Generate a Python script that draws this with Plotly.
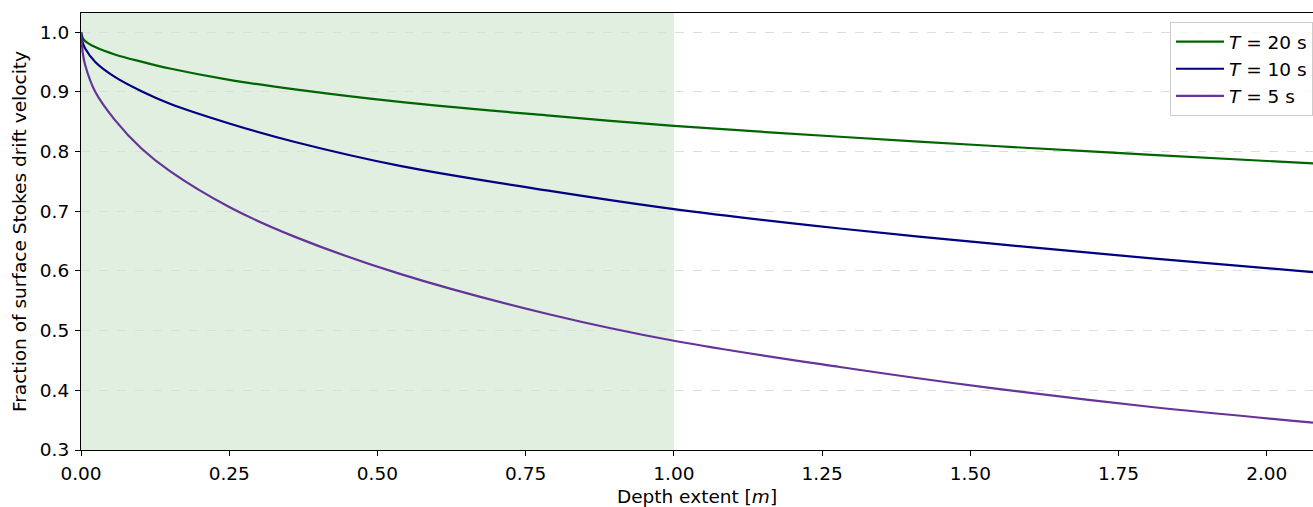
import plotly.graph_objects as go

# Depth extent [m]
depth = [0.0, 0.003, 0.007, 0.024, 0.057, 0.102, 0.15, 0.25, 0.361, 0.538,
         0.791, 1.0, 1.28, 1.533, 1.806, 2.078]
# Fraction of surface Stokes drift velocity for each period
frac_T20 = [1.0, 0.990, 0.985, 0.975, 0.9626, 0.9505, 0.939, 0.920, 0.904, 0.883,
            0.860, 0.843, 0.8247, 0.8096, 0.7945, 0.780]
frac_T10 = [1.0, 0.982, 0.9725, 0.950, 0.925, 0.901, 0.880, 0.847, 0.816, 0.776,
            0.734, 0.7035, 0.671, 0.646, 0.621, 0.598]
frac_T5 = [1.0, 0.965, 0.945, 0.900, 0.853, 0.805, 0.767, 0.707, 0.657, 0.595,
           0.527, 0.483, 0.439, 0.404, 0.372, 0.346]

series = [
    ("<i>T</i> = 20 s", frac_T20, "#006400"),
    ("<i>T</i> = 10 s", frac_T10, "#000080"),
    ("<i>T</i> = 5 s", frac_T5, "#663399"),
]
shade_start, shade_end = 0.0, 1.0

fig = go.Figure()
for name, ys, col in series:
    fig.add_trace(go.Scatter(x=depth, y=ys, mode="lines", name=name,
                             line=dict(color=col, width=2.2, shape="spline", smoothing=1.0)))

fig.add_vrect(x0=shade_start, x1=shade_end, fillcolor="#e0efe0", opacity=1,
              line_width=0, layer="below")

font = dict(family="DejaVu Sans", size=18.5, color="black")
fig.update_layout(
    width=1313, height=507,
    margin=dict(l=81, r=0, t=13, b=57),
    plot_bgcolor="white", paper_bgcolor="white",
    font=font,
    showlegend=True,
    legend=dict(x=1.0, y=0.979, xanchor="right", yanchor="top",
                bgcolor="rgba(255,255,255,0.8)", bordercolor="#cccccc", borderwidth=1,
                font=font, itemwidth=48, tracegroupgap=0),
    xaxis=dict(range=[0, 2.078], dtick=0.25, tick0=0, tickformat=".2f",
               showgrid=False, zeroline=False, showline=True, linecolor="black",
               linewidth=1.2, mirror=True, ticks="outside", ticklen=5, tickcolor="black",
               ticklabelstandoff=2,
               title=dict(text="Depth extent [<i>m</i>]", standoff=6, font=font),
               tickfont=font, automargin=False),
    yaxis=dict(range=[0.3, 1.032], dtick=0.1, tick0=0.3, tickformat=".1f",
               showgrid=True, gridcolor="#dddddd", griddash="dash", gridwidth=1,
               zeroline=False, showline=True, linecolor="black", linewidth=1.2,
               ticks="outside", ticklen=5, tickcolor="black",
               ticklabelstandoff=2,
               title=dict(text="Fraction of surface Stokes drift velocity", standoff=8, font=font),
               tickfont=font, automargin=False),
)

fig.write_html("out.html", config={"displayModeBar": False},
               post_script="document.body.style.margin='0';document.body.style.overflow='hidden';")
